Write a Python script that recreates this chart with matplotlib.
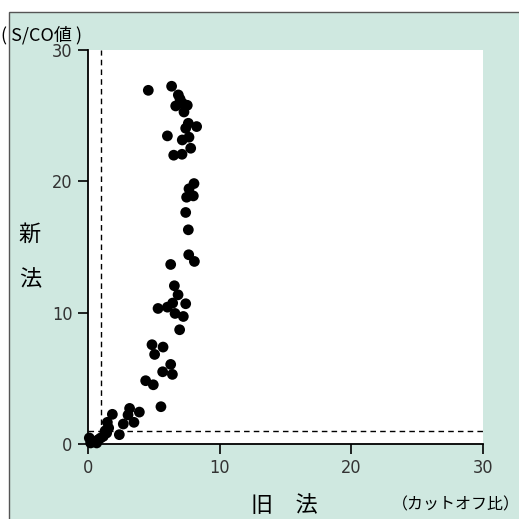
import matplotlib
matplotlib.use("Agg")
import matplotlib.pyplot as plt
from matplotlib.patches import Rectangle

# Data (old method cutoff ratio vs new method S/CO)
old_method = [4.58, 6.35, 6.86, 6.99, 6.66, 7.19, 7.54, 7.29, 7.62, 8.25, 7.42, 6.03, 7.67,
              7.16, 7.80, 6.51, 7.14, 8.05, 7.67, 7.49, 8.00, 7.42, 7.62, 7.65, 8.08, 6.28,
              6.56, 6.84, 6.43, 7.42, 5.32, 6.03, 6.61, 7.24, 6.96, 4.86, 5.70, 5.06, 6.28,
              5.67, 6.41, 4.38, 4.96, 5.54, 3.16, 3.90, 1.85, 3.04, 3.49, 2.68, 1.47, 1.57,
              2.38, 1.42, 1.16, 0.78, 0.66, 0.10, 0.20, 0.40, 1.30, 0.95]
new_method = [26.93, 27.24, 26.58, 26.27, 25.74, 25.94, 25.79, 25.28, 24.42, 24.17, 24.04,
              23.46, 23.36, 23.15, 22.52, 21.99, 22.06, 19.83, 19.43, 18.79, 18.89, 17.63,
              16.31, 14.41, 13.90, 13.67, 12.05, 11.36, 10.73, 10.68, 10.32, 10.42, 9.94,
              9.71, 8.70, 7.56, 7.38, 6.82, 6.06, 5.50, 5.30, 4.82, 4.51, 2.84, 2.71, 2.43,
              2.26, 2.21, 1.65, 1.52, 1.65, 1.22, 0.71, 0.84, 0.58, 0.33, 0.08, 0.46, 0.08,
              0.20, 1.00, 0.45]
cutoff = 1.0
ticks = [0, 10, 20, 30]
n_label = "n=170"

jp = ['Noto Sans CJK JP', 'DejaVu Sans']
teal = '#cfe8e0'

W = H = 519
fig = plt.figure(figsize=(5.19, 5.19), dpi=100)
fig.patch.set_facecolor('white')

# background panel
bg = Rectangle((9 / W, -0.01), 1.02, 1.01 - 12 / H, transform=fig.transFigure,
               facecolor=teal, edgecolor='#555555', linewidth=1.0, zorder=-10)
fig.patches.append(bg)

ax = fig.add_axes([88 / W, (H - 444) / H, (483 - 88) / W, (444 - 50) / H])
ax.set_zorder(5)
ax.set_facecolor('white')
ax.set_xlim(0, 30)
ax.set_ylim(0, 30)
for s in ['top', 'right']:
    ax.spines[s].set_visible(False)
for s in ['left', 'bottom']:
    ax.spines[s].set_linewidth(1.3)
    ax.spines[s].set_color('black')

ax.plot([cutoff, cutoff], [0, 30], ls=(0, (4, 3)), color='black', lw=1.0, zorder=1)
ax.plot([0, 30], [cutoff, cutoff], ls=(0, (4, 3)), color='black', lw=1.0, zorder=1)

ax.scatter(old_method, new_method, s=60, color='black', edgecolors='none', zorder=3,
           clip_on=False)

ax.set_xticks(ticks)
ax.set_yticks(ticks)
ax.tick_params(direction='out', length=7, width=1.2, color='black', labelcolor='#333333',
               pad=4)
for lab in ax.get_xticklabels() + ax.get_yticklabels():
    lab.set_family('DejaVu Sans')
    lab.set_stretch('condensed')
    lab.set_fontsize(13)

def ftext(x, y, s, **kw):
    fig.text(x / W, 1 - y / H, s, **kw)

ftext(402, 387, n_label, family='DejaVu Sans', stretch='condensed', fontsize=13,
      ha='center', va='center')
ftext(1, 35, '( S/CO値 )', family=jp, fontsize=13, ha='left', va='center')
ftext(30, 234, '新', family=jp, fontsize=16, ha='center', va='center')
ftext(30, 280, '法', family=jp, fontsize=16, ha='center', va='center')
ftext(284, 506, '旧　法', family=jp, fontsize=16, ha='center', va='center')
ftext(456, 505, '（カットオフ比）', family=jp, fontsize=11.5, ha='center', va='center')

fig.savefig('out.png', dpi=100)
